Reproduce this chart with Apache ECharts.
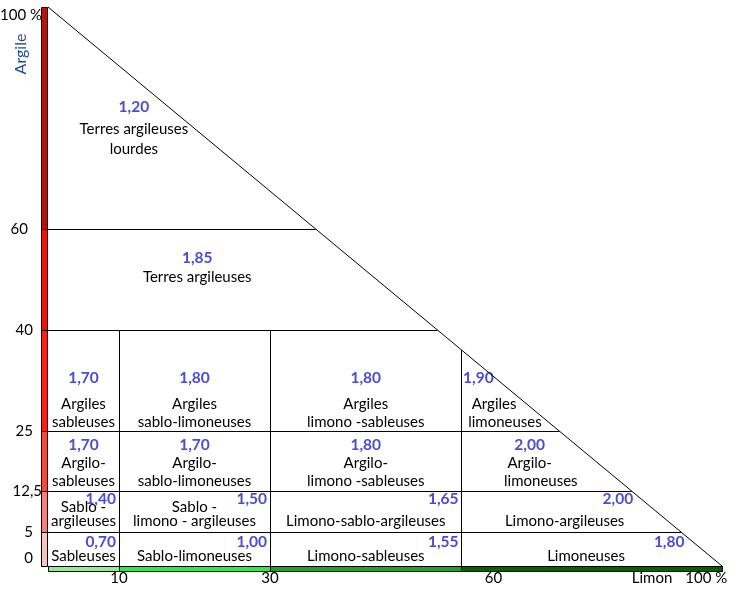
<!DOCTYPE html>
<html><head><meta charset="utf-8">
<script src="https://cdn.jsdelivr.net/npm/echarts@6/dist/echarts.min.js"></script>
<style>html,body{margin:0;padding:0;background:#fff}#c{width:740px;height:590px}</style>
</head><body><div id="c"></div>
<script>
// ---------- DATA ----------
const clayBounds = [0, 5, 12.5, 25, 40, 60, 100];          // Argile % (row limits)
const limonBounds = [0, 10, 30, 60, 100];                  // Limon % (column limits)
const clayTickLabels = ['0', '5', '12,5', '25', '40', '60', '100 %'];
const limonTickValues = [10, 30, 60, 100];
const limonTickLabels = ['10', '30', '60', '100 %'];
const clayAxisName = 'Argile';
const limonAxisName = 'Limon';

// cells, bottom row first
const cellClayLow  = [0, 0, 0, 0, 5, 5, 5, 5, 12.5, 12.5, 12.5, 12.5, 25, 25, 25, 25, 40, 60];
const cellClayHigh = [5, 5, 5, 5, 12.5, 12.5, 12.5, 12.5, 25, 25, 25, 25, 40, 40, 40, 40, 60, 100];
const cellLimonLow  = [0, 10, 30, 60, 0, 10, 30, 60, 0, 10, 30, 60, 0, 10, 30, 60, 0, 0];
const cellLimonHigh = [10, 30, 60, 100, 10, 30, 60, 100, 10, 30, 60, 100, 10, 30, 60, 100, 100, 100];
const cellDensity = [0.70, 1.00, 1.55, 1.80, 1.40, 1.50, 1.65, 2.00, 1.70, 1.70, 1.80, 2.00, 1.70, 1.80, 1.80, 1.90, 1.85, 1.20];
const cellNames = [
  'Sableuses', 'Sablo-limoneuses', 'Limono-sableuses', 'Limoneuses',
  'Sablo -\nargileuses', 'Sablo -\nlimono - argileuses', 'Limono-sablo-argileuses', 'Limono-argileuses',
  'Argilo-\nsableuses', 'Argilo-\nsablo-limoneuses', 'Argilo-\nlimono -sableuses', 'Argilo-\nlimoneuses',
  'Argiles\nsableuses', 'Argiles\nsablo-limoneuses', 'Argiles\nlimono -sableuses', 'Argiles\nlimoneuses',
  'Terres argileuses', 'Terres argileuses\nlourdes'
];

// ---------- SCALE (the schematic's uneven axis spacing) ----------
const SCALE = {
  clayPos: [0, 6.08, 13.42, 24.15, 42.22, 60.29, 100],
  limonPos: [0, 10.53, 32.94, 61.35, 100]
};
function warp(v, src, dst) {
  for (let k = 0; k < src.length - 1; k++) {
    if (v <= src[k + 1]) return dst[k] + (v - src[k]) / (src[k + 1] - src[k]) * (dst[k + 1] - dst[k]);
  }
  return dst[dst.length - 1];
}
const wy = v => warp(v, clayBounds, SCALE.clayPos);
const wx = v => warp(v, limonBounds, SCALE.limonPos);

// ---------- STYLE ----------
const STYLE = {
  font: 'Lato',
  nameSize: 15,
  densSize: 15.5,
  densColor: '#4b4bd8',
  clayBandColors: ['#f7c4c4', '#ef8379', '#ef4d44', '#f5241a', '#e2190d', '#b1150b'],
  limonBandColors: ['#90ee90', '#2ced40', '#1ea51e', '#006400'],
  // y tick label: [padRight, padTop, padBottom]
  yLabelPad: [[9, 0, 16], [9, 0, 0], [0, 0, 0], [9, 0, 0], [9, 0, 0], [14, 0, 0], [0, 16, 0]],
  rows: [
    { lineH: 19, bottomGap: 9.5, corner: true, cornerTop: 9.5 },
    { lineH: 14, bottomGap: 11, corner: true, cornerTop: 8 },
    { lineH: 18.5, bottomGap: 9.5, gap: 17.5, densAtName: true },
    { lineH: 18, bottomGap: 9, gap: 26 },
    { lineH: 19, bottomGap: 53, gap: 19, dx: -15 },
    { lineH: 20, bottomGap: 80, gap: 22, dx: 19 }
  ]
};

const chart = echarts.init(document.getElementById('c'));

function geom(api) {
  const pTL = api.coord([wx(0), wy(100)]), pBR = api.coord([wx(100), wy(0)]);
  return {
    pTL, pBR,
    diagX: y => pTL[0] + (y - pTL[1]) / (pBR[1] - pTL[1]) * (pBR[0] - pTL[0]),
    diagY: x => pTL[1] + (x - pTL[0]) / (pBR[0] - pTL[0]) * (pBR[1] - pTL[1])
  };
}
const crisp = v => Math.round(v) + 0.5;
function txt(t, x, y, opt) {
  return {
    type: 'text', x: x, y: y,
    style: Object.assign({ text: t, fill: '#000', fontFamily: STYLE.font, fontSize: STYLE.nameSize,
      align: 'center', verticalAlign: 'middle' }, opt || {})
  };
}

function renderCell(params, api) {
  const i = params.dataIndex;
  const lo = cellLimonLow[i], hi = cellLimonHigh[i], cl = cellClayLow[i], ch = cellClayHigh[i];
  const rs = STYLE.rows[clayBounds.indexOf(cl)];
  const g = geom(api);
  const x0 = api.coord([wx(lo), wy(cl)])[0];
  const x1 = api.coord([wx(hi), wy(cl)])[0];
  const yB = api.coord([wx(lo), wy(cl)])[1];
  const yT = api.coord([wx(lo), wy(ch)])[1];
  const toDiag = hi === 100;
  const single = lo === 0 && hi === 100;
  const children = [];
  const ls = { stroke: '#000', lineWidth: 1 };
  if (ch < 100) {
    const xe = Math.min(x1, g.diagX(yT));
    if (xe > x0) children.push({ type: 'line', shape: { x1: x0, y1: crisp(yT), x2: xe, y2: crisp(yT) }, style: ls });
  }
  if (!toDiag) {
    const yTop = Math.max(yT, g.diagY(x1));
    children.push({ type: 'line', shape: { x1: crisp(x1), y1: yB, x2: crisp(x1), y2: yTop }, style: ls });
  }
  const lines = cellNames[i].split('\n');
  const n = lines.length;
  const lastY = yB - rs.bottomGap;
  const lineYs = lines.map((_, k) => lastY - (n - 1 - k) * rs.lineH);
  const cx = y => single ? (x0 + g.diagX((yT + yB) / 2)) / 2 + (rs.dx || 0)
    : toDiag ? (x0 + g.diagX(y)) / 2 : (x0 + x1) / 2;
  lines.forEach((t, k) => children.push(txt(t, cx(lineYs[k]), lineYs[k])));
  const dText = cellDensity[i].toFixed(2).replace('.', ',');
  const dOpt = { fill: STYLE.densColor, fontWeight: 'bold', fontSize: STYLE.densSize };
  if (rs.corner) {
    const dy = yT + rs.cornerTop;
    const xr = Math.min(x1 - 3, g.diagX(dy) - 8);
    children.push(txt(dText, xr, dy, Object.assign({ align: 'right' }, dOpt)));
  } else {
    const dy = lineYs[0] - rs.gap;
    const dx = rs.densAtName ? cx(lineYs[0]) : cx(dy);
    children.push(txt(dText, dx, dy, dOpt));
  }
  return { type: 'group', children };
}

function renderClayBand(params, api) {
  const k = params.dataIndex;
  const top = api.coord([wx(0), wy(clayBounds[k + 1])]);
  const bot = api.coord([wx(0), wy(clayBounds[k])]);
  return {
    type: 'rect',
    shape: { x: Math.round(bot[0]) - 6.5, y: crisp(top[1]), width: 6, height: Math.round(bot[1] - top[1]) },
    style: { fill: STYLE.clayBandColors[k], stroke: '#000', lineWidth: 1 }
  };
}
function renderLimonBand(params, api) {
  const k = params.dataIndex;
  const a = api.coord([wx(limonBounds[k]), wy(0)]);
  const b = api.coord([wx(limonBounds[k + 1]), wy(0)]);
  return {
    type: 'rect',
    shape: { x: crisp(a[0]), y: crisp(a[1]), width: Math.round(b[0] - a[0]), height: 5 },
    style: { fill: STYLE.limonBandColors[k], stroke: '#000', lineWidth: 1 }
  };
}

const yTickVals = clayBounds.map(wy);
const xTickVals = limonTickValues.map(wx);
const nearest = (arr, v) => arr.reduce((b, a, k) => Math.abs(a - v) < Math.abs(arr[b] - v) ? k : b, 0);
const yRich = {};
STYLE.yLabelPad.forEach((p, k) => {
  yRich['y' + k] = { padding: [p[1], p[0], p[2], 0], fontFamily: STYLE.font, fontSize: 15, color: '#000' };
});

const option = {
  animation: false,
  backgroundColor: '#fff',
  grid: { left: 48, top: 7, width: 674, height: 559, containLabel: false, outerBoundsMode: 'none' },
  xAxis: {
    type: 'value', min: 0, max: 100,
    axisLine: { show: false }, axisTick: { show: false }, splitLine: { show: false },
    axisLabel: {
      customValues: xTickVals, margin: 5, color: '#000', fontFamily: STYLE.font, fontSize: 15,
      formatter: v => {
        const k = nearest(xTickVals, v);
        const lab = limonTickLabels[k];
        if (limonTickValues[k] === 60) return '{s|' + lab + '}';
        if (limonTickValues[k] === 100) return '{n|' + limonAxisName + '}{p|' + lab + '}';
        return lab;
      },
      rich: {
        s: { padding: [0, 0, 0, 64], fontFamily: STYLE.font, fontSize: 15, color: '#000' },
        n: { padding: [0, 13, 0, 0], fontFamily: STYLE.font, fontSize: 15, color: '#000' },
        p: { padding: [0, 85, 0, 0], fontFamily: STYLE.font, fontSize: 15, color: '#000' }
      }
    }
  },
  yAxis: {
    type: 'value', min: 0, max: 100,
    axisLine: { show: false }, axisTick: { show: false }, splitLine: { show: false },
    axisLabel: {
      customValues: yTickVals, margin: 6, color: '#000', fontFamily: STYLE.font, fontSize: 15,
      formatter: v => {
        const k = nearest(yTickVals, v);
        return '{y' + k + '|' + clayTickLabels[k] + '}';
      },
      rich: yRich
    }
  },
  graphic: [{
    type: 'text', x: 21, y: 54, rotation: Math.PI / 2,
    style: { text: clayAxisName, fill: '#1f4e8c', fontFamily: STYLE.font, fontSize: 16,
      align: 'center', verticalAlign: 'middle' }
  }],
  series: [
    {
      type: 'custom', name: 'cells', renderItem: renderCell, z: 2,
      data: cellDensity.map((d, i) => [wx(cellLimonLow[i]), wy(cellClayLow[i]), d])
    },
    {
      type: 'line', name: 'diagonal', z: 3, symbol: 'none', silent: true,
      lineStyle: { color: '#000', width: 1 },
      data: [[wx(0), wy(100)], [wx(100), wy(0)]]
    },
    {
      type: 'custom', name: 'clayBand', renderItem: renderClayBand, z: 4,
      data: clayBounds.slice(0, -1).map((c, k) => [wx(0), wy(c)])
    },
    {
      type: 'custom', name: 'limonBand', renderItem: renderLimonBand, z: 4,
      data: limonBounds.slice(0, -1).map((l, k) => [wx(l), wy(0)])
    }
  ]
};
chart.setOption(option);
</script>
</body></html>
